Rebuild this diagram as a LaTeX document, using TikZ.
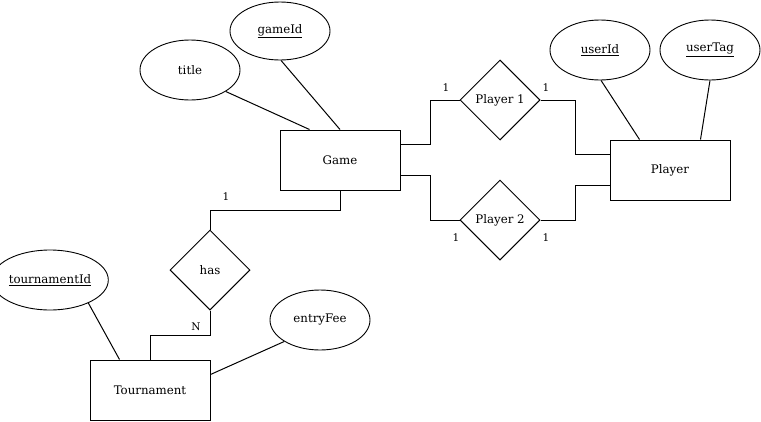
\documentclass[tikz,border=0pt]{standalone}
\usepackage{fontspec}
\setmainfont{DejaVu Serif}
\usetikzlibrary{shapes.geometric,calc}
\begin{document}
\begin{tikzpicture}[x=1pt,y=-1pt,
  every node/.style={font=\fontsize{11.8}{14}\selectfont},
  entity/.style={draw,line width=1pt,minimum width=120pt,minimum height=60pt,inner sep=0pt},
  attr/.style={draw,ellipse,line width=0.9pt,minimum width=100pt,minimum height=60pt,inner sep=0pt},
  rel/.style={draw,diamond,line width=1pt,minimum width=80pt,minimum height=80pt,inner sep=0pt},
  link/.style={line width=1pt},
  card/.style={font=\fontsize{10.5}{12}\selectfont,inner sep=0pt}]
\useasboundingbox (0,0) rectangle (761,421);
% entities
\node[entity] (game) at (340,160) {Game};
\node[entity] (player) at (670,170) {Player};
\node[entity] (tour) at (150,390) {Tournament};
% attributes
\node[attr] (title) at (190,70) {title};
\node[attr,minimum height=58pt] (gameid) at (280,31) {\underline{gameId}};
\node[attr] (userid) at (600,50) {\underline{userId}};
\node[attr] (usertag) at (710,50) {\underline{userTag}};
\node[attr] (tourid) at (50,280) {\underline{tournamentId}};
\node[attr] (fee) at (320,320) {entryFee};
% relationships
\node[rel] (p1) at (500,100) {Player 1};
\node[rel] (p2) at (500,220) {Player 2};
\node[rel] (has) at (210,270) {has};
% attribute links
\draw[link] (title.-31) -- ($(game.north west)+(30,0)$);
\draw[link] (gameid.-88) -- (game.north);
\draw[link] (userid.-88) -- ($(player.north west)+(30,0)$);
\draw[link] (usertag.-90) -- ($(player.north east)+(-30,0)$);
\draw[link] (tourid.-31) -- ($(tour.north west)+(30,0)$);
\draw[link] (fee.-149) -- ($(tour.north east)+(0,15)$);
% relationship links
\coordinate (g1) at ($(game.north east)+(0,15)$);
\coordinate (g2) at ($(game.south east)+(0,-15)$);
\coordinate (pl1) at ($(player.north west)+(0,15)$);
\coordinate (pl2) at ($(player.south west)+(0,-15)$);
\draw[link] (g1) -- ++(30,0) |- (p1.west);
\draw[link] (p1.east) -- ++(35,0) |- (pl1);
\draw[link] (g2) -- ++(30,0) |- (p2.west);
\draw[link] (p2.east) -- ++(35,0) |- (pl2);
\draw[link] (game.south) -- ++(0,20) -| (has.north);
\draw[link] (has.south) -- ++(0,25) -| (tour.north);
% cardinalities
\node[card] (c1) at (446,88) {1};
\node[card] (c2) at (546,88) {1};
\node[card] (c3) at (456,238) {1};
\node[card] (c4) at (546,238) {1};
\node[card] (c5) at (226,197) {1};
\node[card] (c6) at (196,327) {N};
\end{tikzpicture}
\end{document}
